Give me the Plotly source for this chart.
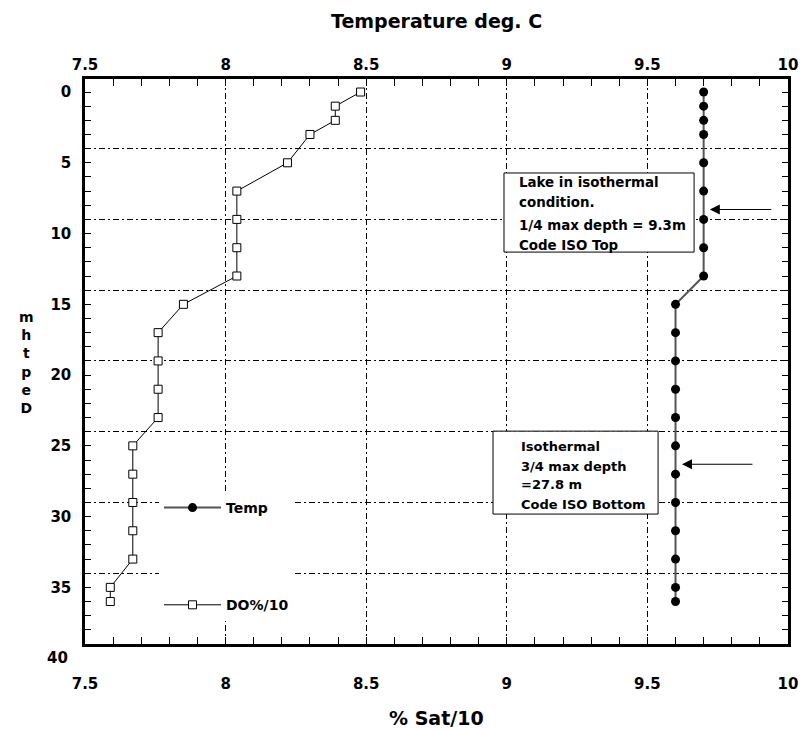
import plotly.graph_objects as go

# Profile sample depths (m)
depth_m = [0, 1, 2, 3, 5, 7, 9, 11, 13, 15, 17, 19, 21, 23, 25, 27, 29, 31, 33, 35, 36]
# Water temperature (deg C)
temp_c = [9.7, 9.7, 9.7, 9.7, 9.7, 9.7, 9.7, 9.7, 9.7,
          9.6, 9.6, 9.6, 9.6, 9.6, 9.6, 9.6, 9.6, 9.6, 9.6, 9.6, 9.6]
# Dissolved oxygen, percent saturation divided by 10
do_sat10 = [8.48, 8.39, 8.39, 8.30, 8.22, 8.04, 8.04, 8.04, 8.04, 7.85,
            7.76, 7.76, 7.76, 7.76, 7.67, 7.67, 7.67, 7.67, 7.67, 7.59, 7.59]

x_ticks = [7.5, 8, 8.5, 9, 9.5, 10]
x_tick_text = ["7.5", "8", "8.5", "9", "9.5", "10"]
depth_ticks = [0, 5, 10, 15, 20, 25, 30, 35]
depth_grid = [4, 9, 14, 19, 24, 29, 34]

FONT = "DejaVu Sans"
X_RANGE = [7.5, 10]
Y_RANGE = [39.0, -0.92]
GRID_DASH = "6px,3px,2px,3px"
PLOT_W, PLOT_H = 703, 565

fig = go.Figure()

fig.add_trace(go.Scatter(
    x=temp_c, y=depth_m, name="Temp", mode="lines+markers",
    xaxis="x2", yaxis="y2", legendgroup="t",
    line=dict(color="#555555", width=2),
    marker=dict(symbol="circle", size=9, color="black"),
))
fig.add_trace(go.Scatter(
    x=do_sat10, y=depth_m, name="DO%/10", mode="lines+markers",
    xaxis="x", yaxis="y", legendgroup="d",
    line=dict(color="black", width=1),
    marker=dict(symbol="square", size=8, color="white",
                line=dict(color="black", width=1)),
))

tick_font = dict(family=FONT, size=15, color="black", weight="bold")
axis_common = dict(
    range=X_RANGE, tickvals=x_ticks, ticktext=x_tick_text,
    ticks="inside", ticklen=7, tickwidth=1, tickcolor="black",
    minor=dict(dtick=0.1, tick0=7.5, ticks="inside", ticklen=7,
               tickcolor="black", tickwidth=1),
    showline=True, linewidth=2.5, linecolor="black",
    tickfont=tick_font, zeroline=False, automargin=False,
)

fig.update_layout(
    width=800, height=729,
    margin=dict(l=85, r=12, t=79, b=85, autoexpand=False),
    paper_bgcolor="white", plot_bgcolor="white",
    font=dict(family=FONT, color="black"),
    xaxis=dict(**axis_common, side="bottom",
               showgrid=True, gridcolor="black", gridwidth=1,
               griddash=GRID_DASH, ticklabelstandoff=24),
    xaxis2=dict(**axis_common, side="top", overlaying="x",
                showgrid=False, ticklabelstandoff=0),
    yaxis=dict(range=Y_RANGE, tickvals=depth_ticks,
               ticks="inside", ticklen=6, tickcolor="black",
               minor=dict(dtick=1, tick0=0, ticks="inside", ticklen=6,
                          tickcolor="black"),
               showline=True, linewidth=2.5, linecolor="black",
               mirror="ticks", showgrid=False, zeroline=False,
               tickfont=tick_font, ticklabelstandoff=8, automargin=False),
    yaxis2=dict(range=Y_RANGE, overlaying="y", tickvals=depth_grid,
                showticklabels=False, ticks="", showline=False,
                showgrid=True, gridcolor="black", gridwidth=1,
                griddash=GRID_DASH, zeroline=False, automargin=False),
    showlegend=True,
    legend=dict(x=(159 - 85) / PLOT_W, y=(644 - 492) / PLOT_H,
                xanchor="left", yanchor="top",
                bgcolor="white", borderwidth=0,
                tracegroupgap=76, itemwidth=57,
                font=dict(family=FONT, size=14, color="black", weight="bold")),
)

# Axis titles
fig.add_annotation(text="Temperature deg. C", xref="paper", yref="paper",
                   x=0.5, y=1, yanchor="middle", yshift=58, showarrow=False,
                   font=dict(family=FONT, size=19, weight="bold"))
fig.add_annotation(text="% Sat/10", xref="paper", yref="paper",
                   x=0.5, y=0, yanchor="middle", yshift=-74, showarrow=False,
                   font=dict(family=FONT, size=19, weight="bold"))

# Stacked vertical depth label
fig.add_annotation(text="<br>".join(["m", "h", "t", "p", "e", "D"]),
                   xref="paper", yref="paper",
                   x=(17 - 85) / PLOT_W, y=(644 - 362) / PLOT_H,
                   yanchor="middle", showarrow=False,
                   font=dict(family=FONT, size=14, weight="bold"))

# Depth label below the frame
fig.add_annotation(text="40", xref="paper", yref="paper",
                   x=0, y=(644 - 658) / PLOT_H,
                   xanchor="right", yanchor="middle", xshift=-15,
                   showarrow=False, font=tick_font)

# Note boxes
notes = [
    dict(box=(8.99, 5.72, 9.666, 11.31), x=9.036, size=13.4,
         lines=[("Lake in isothermal", 6.36), ("condition.", 7.84),
                ("1/4 max depth = 9.3m", 9.40), ("Code ISO Top", 10.81)]),
    dict(box=(8.951, 23.96, 9.538, 29.82), x=9.043, size=13,
         lines=[("Isothermal", 25.07), ("3/4 max depth", 26.43),
                ("=27.8 m", 27.75), ("Code ISO Bottom", 29.12)]),
]
for note in notes:
    x0, y0, x1, y1 = note["box"]
    fig.add_shape(type="rect", xref="x", yref="y", x0=x0, x1=x1, y0=y0, y1=y1,
                  fillcolor="white", line=dict(color="black", width=1),
                  layer="above")
    for text, yy in note["lines"]:
        fig.add_annotation(text=text, xref="x", yref="y", x=note["x"], y=yy,
                           xanchor="left", showarrow=False,
                           font=dict(family=FONT, size=note["size"], weight="bold"))

# Arrows pointing at the quarter-depth markers
for tip_x, tail_x, yy in [(9.722, 9.946, 8.3), (9.623, 9.879, 26.3)]:
    fig.add_annotation(text="", xref="x", yref="y", x=tip_x, y=yy,
                       axref="x", ayref="y", ax=tail_x, ay=yy,
                       showarrow=True, arrowhead=2, arrowsize=2,
                       arrowwidth=1, arrowcolor="black")

fig.write_html("out.html")
